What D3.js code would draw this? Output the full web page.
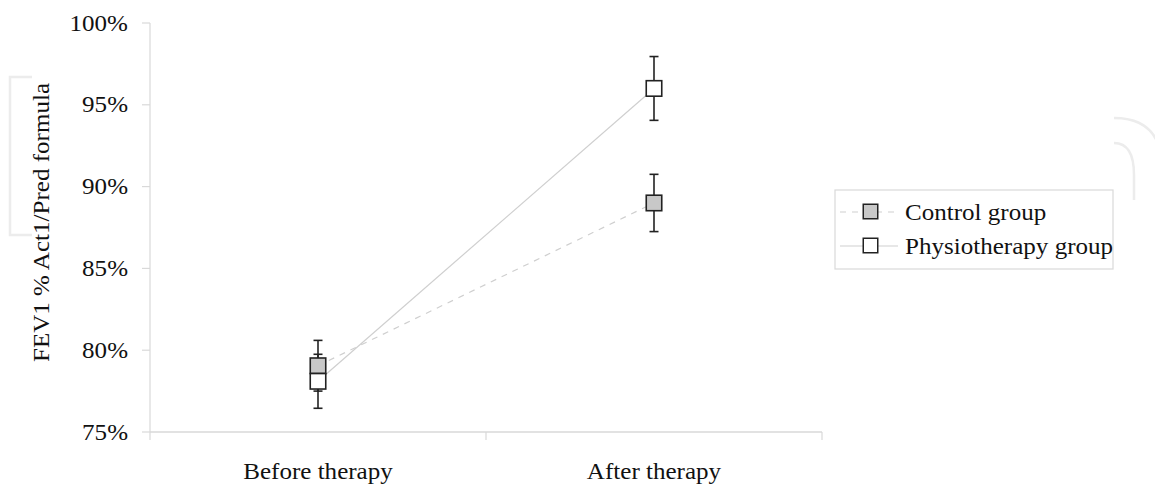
<!DOCTYPE html>
<html><head><meta charset="utf-8">
<script src="https://cdn.jsdelivr.net/npm/d3@7"></script>
<style>body{margin:0;background:#fff}svg{display:block}text{font-family:"Liberation Serif","Times New Roman",serif;fill:#111}</style>
</head><body><svg id="c" width="1155" height="484"></svg>
<script>
const categories = ["Before therapy", "After therapy"];
const seriesNames = ["Control group", "Physiotherapy group"];
const controlMeans = [79.05, 89.0];
const controlErr = [1.55, 1.75];
const physioMeans = [78.1, 96.0];
const physioErr = [1.65, 1.95];
const yTicks = [75, 80, 85, 90, 95, 100];
const yTitle = "FEV1 % Act1/Pred formula";

const svg = d3.select("#c");
const M = {l: 150, r: 822, t: 23, b: 432};
const x = d3.scaleBand().domain(categories).range([M.l, M.r]).padding(0);
const y = d3.scaleLinear().domain([75, 100]).range([M.b, M.t]);
const FS = 23, SX = 1.09;

// faint watermark shapes
const wm = svg.append("g").attr("fill","none").attr("stroke","#ececec").attr("stroke-width",2.5);
wm.append("path").attr("d","M32,77 H10 V235 H32");
wm.append("path").attr("d","M1114,118 C1140,118 1155,130 1160,150");
wm.append("path").attr("d","M1114,143 C1128,143 1134,155 1134,175 V200");

// axes
const gx = svg.append("g").attr("transform",`translate(0,${M.b})`);
gx.append("line").attr("x1",M.l).attr("x2",M.r).attr("stroke","#d9d9d9").attr("stroke-width",1.5);
const boundaries = [M.l, ...categories.map(c => x(c) + x.bandwidth())];
gx.selectAll("line.t").data(boundaries).join("line").attr("class","t")
  .attr("x1",d=>d).attr("x2",d=>d).attr("y1",0).attr("y2",8).attr("stroke","#d9d9d9").attr("stroke-width",1.2);
gx.selectAll("text").data(categories).join("text")
  .attr("transform",d=>`translate(${x(d)+x.bandwidth()/2},47) scale(${SX},1)`).attr("text-anchor","middle")
  .attr("font-size",FS).text(d=>d);

const gy = svg.append("g");
gy.append("line").attr("x1",M.l).attr("x2",M.l).attr("y1",M.t).attr("y2",M.b).attr("stroke","#d9d9d9").attr("stroke-width",1.2);
gy.selectAll("line.t").data(yTicks).join("line").attr("class","t")
  .attr("x1",M.l-8).attr("x2",M.l).attr("y1",d=>y(d)).attr("y2",d=>y(d)).attr("stroke","#d9d9d9").attr("stroke-width",1.2);
gy.selectAll("text").data(yTicks).join("text")
  .attr("transform",d=>`translate(128,${y(d)+7.5}) scale(${SX},1)`).attr("text-anchor","end").attr("font-size",FS)
  .text(d=>d+"%");

svg.append("text").attr("transform",`translate(49,${(M.t+M.b)/2-5}) rotate(-90) scale(${SX},1)`)
  .attr("text-anchor","middle").attr("font-size",FS).text(yTitle);

const cx = c => x(c) + x.bandwidth()/2;
const series = [
  {name: seriesNames[0], means: controlMeans, err: controlErr, fill: "#c8c8c8", dash: "6,6"},
  {name: seriesNames[1], means: physioMeans, err: physioErr, fill: "#ffffff", dash: null}
];
const line = d3.line().x((d,i)=>cx(categories[i])).y(d=>y(d));
series.forEach(s => {
  svg.append("path").attr("d", line(s.means)).attr("fill","none").attr("stroke","#cfcfcf")
    .attr("stroke-width",1.2).attr("stroke-dasharray", s.dash);
});
// error bars
series.forEach(s => {
  const g = svg.append("g").attr("stroke","#222").attr("stroke-width",1.6);
  s.means.forEach((m,i) => {
    const X = cx(categories[i]);
    g.append("line").attr("x1",X).attr("x2",X).attr("y1",y(m+s.err[i])).attr("y2",y(m-s.err[i]));
    [m+s.err[i], m-s.err[i]].forEach(v => g.append("line").attr("x1",X-4.5).attr("x2",X+4.5).attr("y1",y(v)).attr("y2",y(v)));
  });
});
// markers
const S = 15.5;
series.forEach(s => {
  svg.append("g").selectAll("rect").data(s.means).join("rect")
    .attr("x",(d,i)=>cx(categories[i])-S/2).attr("y",d=>y(d)-S/2).attr("width",S).attr("height",S)
    .attr("fill",s.fill).attr("stroke","#222").attr("stroke-width",1.6);
});

// legend
const lg = svg.append("g");
lg.append("rect").attr("x",835).attr("y",190).attr("width",278).attr("height",79)
  .attr("fill","#fff").attr("stroke","#d9d9d9").attr("stroke-width",1.2);
series.forEach((s,i) => {
  const yy = 212 + i*34;
  lg.append("line").attr("x1",840).attr("x2",898).attr("y1",yy).attr("y2",yy)
    .attr("stroke","#cfcfcf").attr("stroke-width",1.2).attr("stroke-dasharray",s.dash);
  lg.append("rect").attr("x",870-S/2+1).attr("y",yy-S/2).attr("width",S-1).attr("height",S-1)
    .attr("fill",s.fill).attr("stroke","#222").attr("stroke-width",1.5);
  lg.append("text").attr("transform",`translate(905,${yy+7.5}) scale(${SX},1)`).attr("font-size",FS).text(s.name);
});
</script></body></html>
